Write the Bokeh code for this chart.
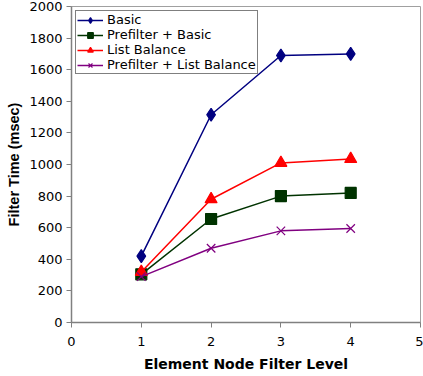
from bokeh.plotting import figure
from bokeh.models import Range1d, FixedTicker, Legend, LegendItem
from bokeh.embed import file_html
from bokeh.resources import INLINE

levels = [1, 2, 3, 4]
basic = [420, 1315, 1690, 1700]
prefilter_basic = [305, 655, 800, 820]
list_balance = [320, 780, 1010, 1035]
prefilter_list = [290, 470, 580, 595]
x_ticks = [0, 1, 2, 3, 4, 5]
y_ticks = [0, 200, 400, 600, 800, 1000, 1200, 1400, 1600, 1800, 2000]

WIDE = "DejaVu Sans"
NARROW = "Liberation Sans"

p = figure(width=423, height=376, output_backend="svg", toolbar_location=None,
           x_range=Range1d(0, 5), y_range=Range1d(0, 2000),
           min_border_left=71, min_border_right=3, min_border_top=6, min_border_bottom=54)
p.grid.visible = False
p.outline_line_color = "#a0a0a0"
p.outline_line_width = 1
p.background_fill_color = "white"
p.border_fill_color = "white"

for ax in (p.xaxis[0], p.yaxis[0]):
    ax.axis_line_color = "#808080"
    ax.axis_line_width = 1.5
    ax.major_tick_line_color = "#808080"
    ax.major_tick_out = 5
    ax.major_tick_in = 0
    ax.minor_tick_line_color = None
    ax.major_label_text_font = WIDE
    ax.major_label_text_font_size = "13px"
    ax.major_label_text_color = "black"
    ax.axis_label_text_font_size = "14px"
    ax.axis_label_text_font_style = "bold"
    ax.axis_label_text_color = "black"

p.xaxis.axis_label_text_font = WIDE
p.yaxis.axis_label_text_font = NARROW
p.yaxis.axis_label_text_font_size = "14.5px"

p.xaxis.ticker = FixedTicker(ticks=x_ticks)
p.yaxis.ticker = FixedTicker(ticks=y_ticks)
p.xaxis.axis_label = "Element Node Filter Level"
p.yaxis.axis_label = "Filter Time (msec)"
p.xaxis.major_label_standoff = 9
p.xaxis.axis_label_standoff = 7
p.yaxis.major_label_standoff = 4
p.yaxis.axis_label_standoff = 4

series = [
    ("Basic", basic, "#000080", "diamond", 13),
    ("Prefilter + Basic", prefilter_basic, "#003300", "square", 11),
    ("List Balance", list_balance, "#ff0000", "triangle", 12),
    ("Prefilter + List Balance", prefilter_list, "#800080", "x", 12),
]
items = []
for name, vals, color, marker, size in series:
    r1 = p.line(levels, vals, line_color=color, line_width=1.5)
    r2 = p.scatter(levels, vals, marker=marker, size=size, fill_color=color,
                   line_color=color, line_width=1.2)
    items.append(LegendItem(label=name, renderers=[r1, r2]))

legend = Legend(items=items, location="top_left")
legend.border_line_color = "black"
legend.border_line_width = 1
legend.background_fill_color = "white"
legend.background_fill_alpha = 1
legend.label_text_font = WIDE
legend.label_text_font_size = "13px"
legend.label_text_color = "black"
legend.label_height = 13
legend.glyph_height = 14
legend.glyph_width = 26
legend.label_standoff = 4
legend.spacing = 0
legend.padding = 1
legend.margin = 4
p.add_layout(legend)

open("out.html", "w").write(file_html(p, INLINE))
